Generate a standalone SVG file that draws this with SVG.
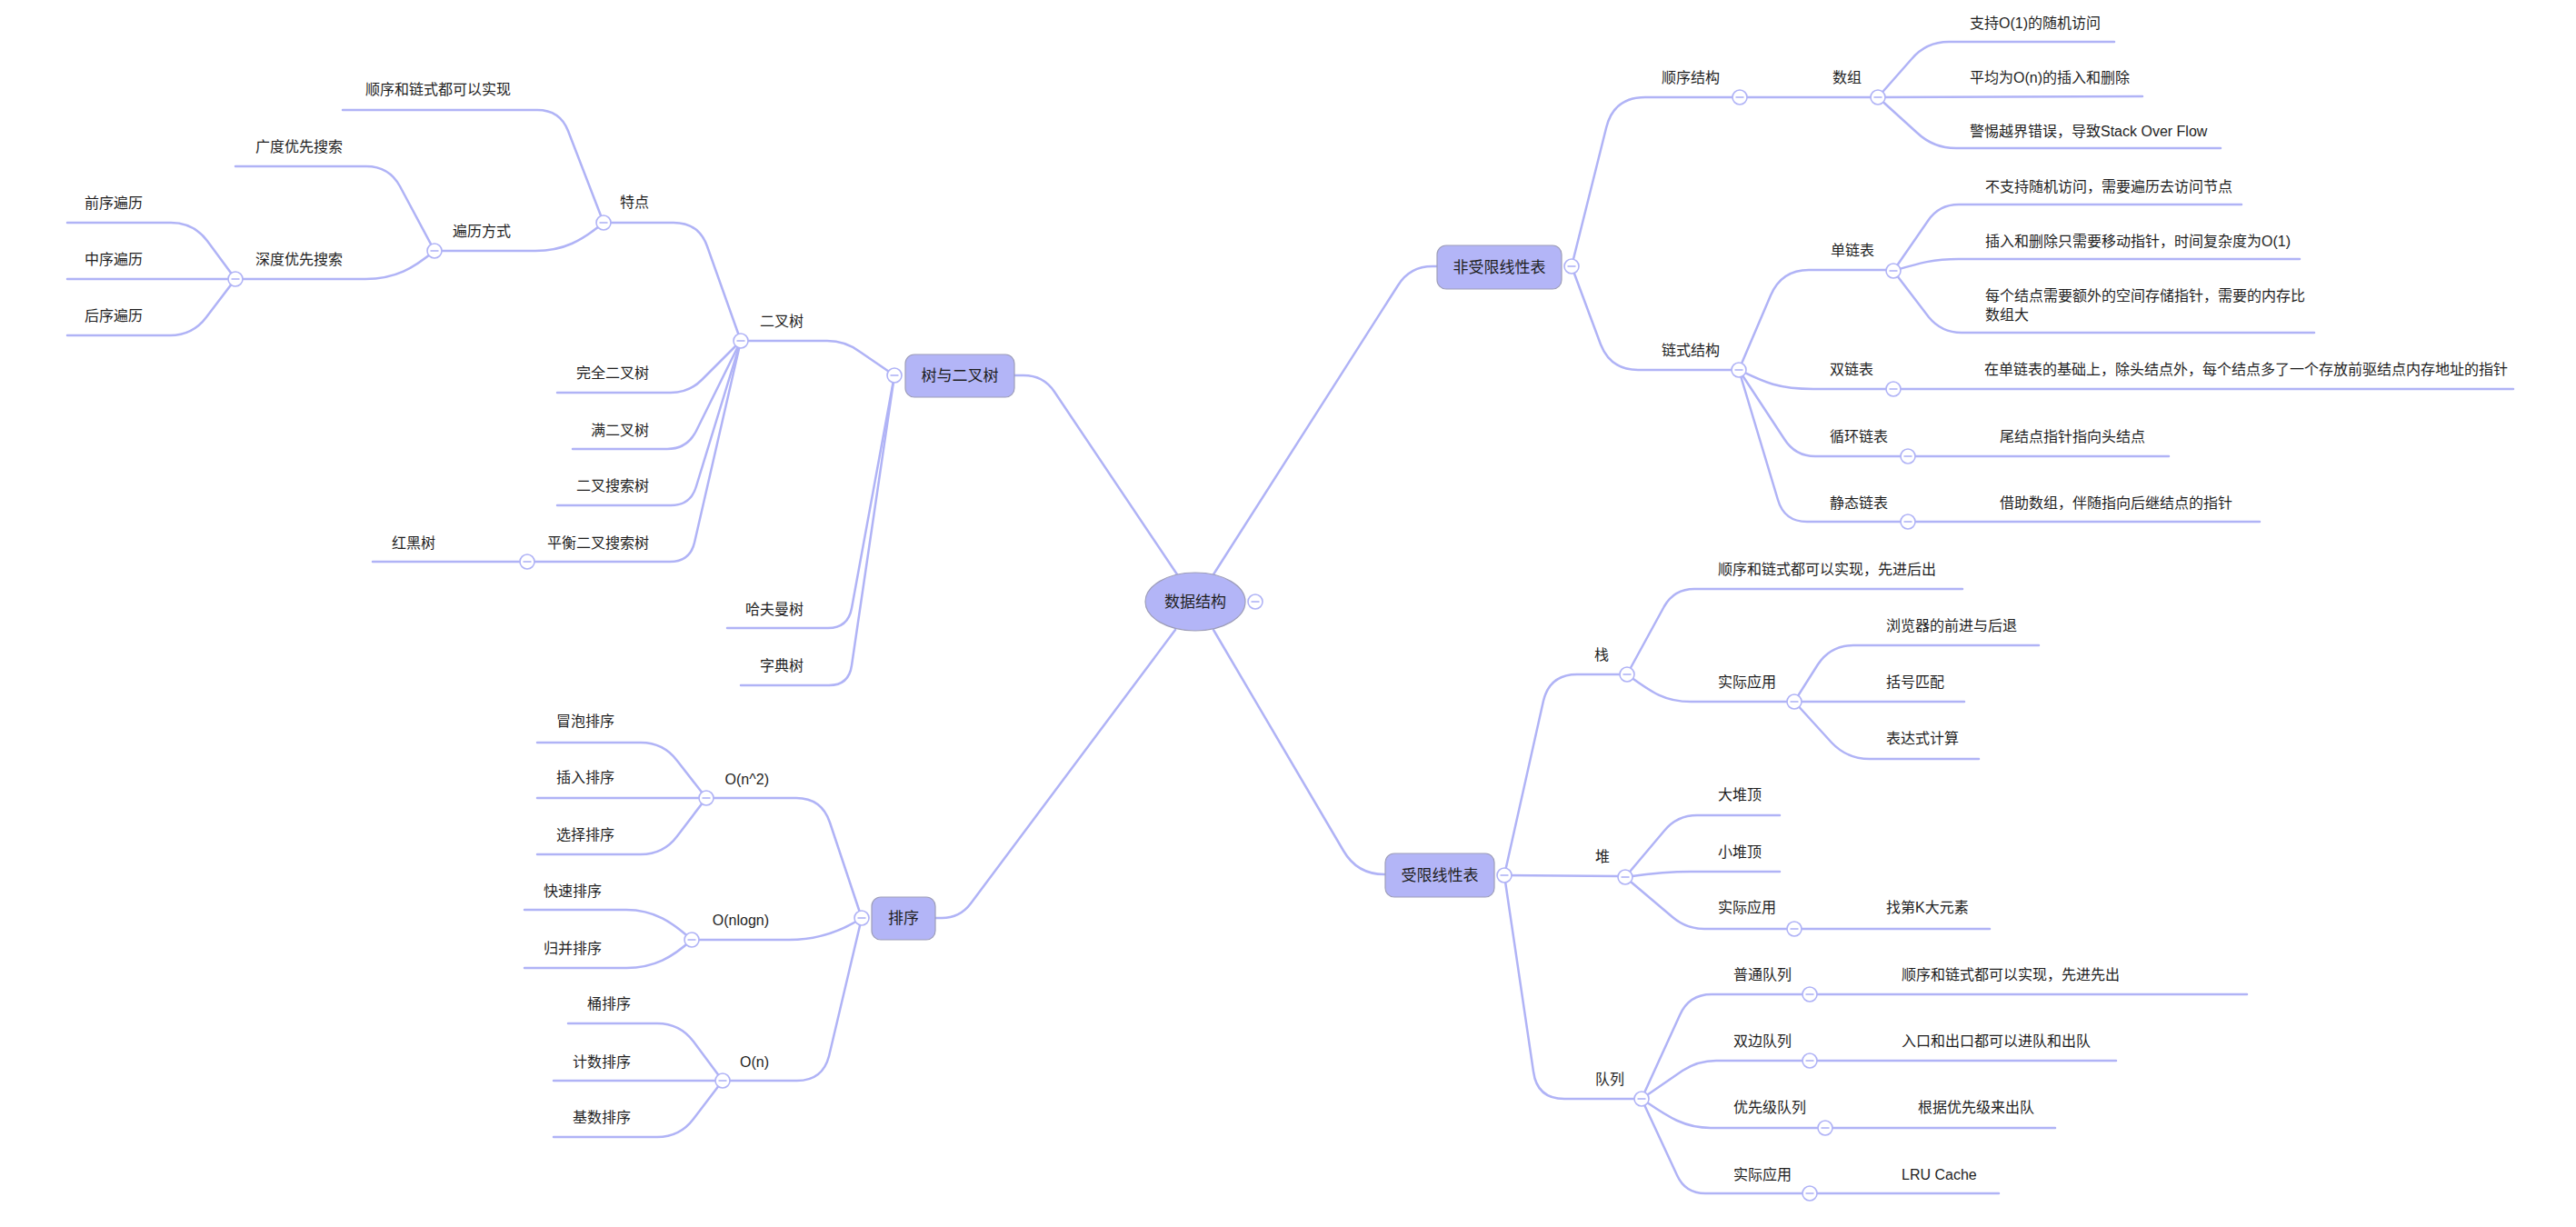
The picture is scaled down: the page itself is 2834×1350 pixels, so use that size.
<svg xmlns="http://www.w3.org/2000/svg" xmlns:xlink="http://www.w3.org/1999/xlink" width="2834" height="1350" viewBox="0 0 2834 1350">
  <style>
    .ln { fill: none; stroke: #b0b3f6; stroke-width: 2.5; stroke-linecap: round; stroke-linejoin: round; }
    text { font-family: "Liberation Sans", "Noto Sans CJK SC", sans-serif; fill: #1e1e1e; }
    .t { font-size: 16px; }
    .te { font-size: 16px; text-anchor: end; }
    .tp { font-size: 17px; text-anchor: middle; }
    .box { fill: #b3b5f7; stroke: #9d9db8; stroke-width: 1.2; }
    .fc { fill: #ffffff; stroke: #b0b3f6; stroke-width: 1.6; }
    .fm { stroke: #b0b3f6; stroke-width: 1.6; }
  </style>
  <defs>
    <g id="fold">
      <circle class="fc" cx="0" cy="0" r="8"/>
      <line class="fm" x1="-4.5" y1="0" x2="4.5" y2="0"/>
    </g>
  </defs>
  <rect width="2834" height="1350" fill="#ffffff"/>

  <!-- branches -->
  <g id="connectors" class="ln">
    <!-- root to main topics -->
    <path d="M1335,632 L1538,314 Q1551,293 1576,293 L1581,293"/>
    <path d="M1335,693 L1478,936 Q1493,962 1523,962 L1524,962"/>
    <path d="M1295,632 L1160,431 Q1148,413 1126,413 L1116,413"/>
    <path d="M1293,693 L1068,994 Q1056,1010 1036,1010 L1029,1010"/>
    <!-- 非受限线性表 -->
    <path d="M1729,293 L1767,141 Q1775,107 1810,107 L1914,107"/>
    <path d="M1729,293 L1761,379 Q1772,407 1802,407 L1913,407"/>
    <path d="M1914,107 L2066,107"/>
    <path d="M2066,107 L2103,65 Q2119,46 2144,46 L2326,46"/>
    <path d="M2066,107 L2357,106"/>
    <path d="M2066,107 L2109,146 Q2127,163 2152,163 L2443,163"/>
    <path d="M1913,407 L1948,325 Q1960,297 1990,297 L2083,297"/>
    <path d="M1913,407 C1940,420 1955,428 1995,428 L2083,428"/>
    <path d="M1913,407 L1963,483 Q1975,502 1997,502 L2099,502"/>
    <path d="M1913,407 L1956,550 Q1963,574 1988,574 L2099,574"/>
    <path d="M2083,298 L2121,243 Q2133,225 2155,225 L2466,225"/>
    <path d="M2083,298 C2110,290 2125,285 2155,285 L2530,285"/>
    <path d="M2083,298 L2122,349 Q2136,366 2158,366 L2546,366"/>
    <path d="M2083,428 L2765,428"/>
    <path d="M2099,502 L2386,502"/>
    <path d="M2099,574 L2486,574"/>
    <!-- 受限线性表 -->
    <path d="M1655,963 L1698,771 Q1705,742 1735,742 L1790,742"/>
    <path d="M1655,963 L1788,964"/>
    <path d="M1655,963 L1687,1179 Q1691,1209 1721,1209 L1806,1209"/>
    <path d="M1790,742 L1831,667 Q1842,648 1864,648 L2159,648"/>
    <path d="M1790,742 C1815,760 1830,772 1860,772 L1974,772"/>
    <path d="M1974,772 L2000,731 Q2014,710 2039,710 L2243,710"/>
    <path d="M1974,772 L2161,772"/>
    <path d="M1974,772 L2015,817 Q2032,835 2057,835 L2177,835"/>
    <path d="M1788,965 L1831,914 Q1845,897 1867,897 L1958,897"/>
    <path d="M1788,965 C1810,962 1830,959 1860,959 L1958,959"/>
    <path d="M1788,965 L1840,1009 Q1855,1022 1875,1022 L1974,1022"/>
    <path d="M1974,1022 L2189,1022"/>
    <path d="M1806,1209 L1848,1117 Q1858,1094 1883,1094 L1991,1094"/>
    <path d="M1806,1209 L1851,1178 Q1868,1167 1888,1167 L1991,1167"/>
    <path d="M1806,1209 C1830,1225 1850,1241 1882,1241 L2008,1241"/>
    <path d="M1806,1209 L1845,1293 Q1854,1313 1876,1313 L1991,1313"/>
    <path d="M1991,1094 L2472,1094"/>
    <path d="M1991,1167 L2328,1167"/>
    <path d="M2008,1241 L2261,1241"/>
    <path d="M1991,1313 L2199,1313"/>
    <!-- 树与二叉树 -->
    <path d="M984,413 L946,387 Q930,375 910,375 L815,375"/>
    <path d="M984,413 L937,669 Q933,691 911,691 L800,691"/>
    <path d="M984,413 L937,732 Q934,754 912,754 L815,754"/>
    <path d="M815,375 L778,271 Q769,245 741,245 L664,245"/>
    <path d="M815,375 L772,418 Q758,432 738,432 L613,432"/>
    <path d="M815,375 L766,474 Q756,494 734,494 L630,494"/>
    <path d="M815,375 L766,535 Q760,556 738,556 L613,556"/>
    <path d="M815,375 L764,597 Q759,618 737,618 L580,618"/>
    <path d="M580,618 L410,618"/>
    <path d="M664,245 L625,144 Q616,121 591,121 L377,121"/>
    <path d="M664,245 C640,265 620,276 589,276 L478,276"/>
    <path d="M478,276 L440,205 Q428,183 403,183 L259,183"/>
    <path d="M478,276 C455,295 435,307 402,307 L259,307"/>
    <path d="M259,307 L228,265 Q213,245 188,245 L74,245"/>
    <path d="M259,307 L74,307"/>
    <path d="M259,307 L227,349 Q212,369 187,369 L74,369"/>
    <!-- 排序 -->
    <path d="M948,1010 L913,905 Q904,878 876,878 L777,878"/>
    <path d="M948,1010 C925,1025 900,1034 868,1034 L761,1034"/>
    <path d="M948,1010 L912,1162 Q905,1189 877,1189 L795,1189"/>
    <path d="M777,878 L745,837 Q730,817 705,817 L591,817"/>
    <path d="M777,878 L591,878"/>
    <path d="M777,878 L745,920 Q730,940 705,940 L591,940"/>
    <path d="M761,1034 C740,1015 720,1001 689,1001 L577,1001"/>
    <path d="M761,1034 C740,1053 720,1065 689,1065 L577,1065"/>
    <path d="M795,1189 L763,1146 Q748,1126 723,1126 L625,1126"/>
    <path d="M795,1189 L609,1189"/>
    <path d="M795,1189 L763,1231 Q748,1251 723,1251 L609,1251"/>
  </g>

  <!-- central topic -->
  <g id="root">
    <ellipse cx="1315" cy="662" rx="55" ry="32" class="box"/>
    <text class="tp" x="1315" y="668">数据结构</text>
    <use xlink:href="#fold" x="1381" y="662"/>
  </g>

  <!-- main topics -->
  <g id="tree">
    <rect x="996" y="390" width="120" height="47" rx="10" class="box"/>
    <text class="tp" x="1056" y="419">树与二叉树</text>
    <use xlink:href="#fold" x="984" y="413"/>
  </g>
  <g id="unrestricted">
    <rect x="1581" y="270" width="137" height="48" rx="10" class="box"/>
    <text class="tp" x="1649.5" y="300">非受限线性表</text>
    <use xlink:href="#fold" x="1729" y="293"/>
  </g>
  <g id="restricted">
    <rect x="1524" y="939" width="120" height="48" rx="10" class="box"/>
    <text class="tp" x="1584" y="969">受限线性表</text>
    <use xlink:href="#fold" x="1655" y="963"/>
  </g>
  <g id="sort">
    <rect x="959" y="987" width="70" height="47" rx="10" class="box"/>
    <text class="tp" x="994" y="1016">排序</text>
    <use xlink:href="#fold" x="948" y="1010"/>
  </g>

  <!-- 非受限线性表 branch -->
  <g id="seq"><text class="t" x="1828" y="91">顺序结构</text><use xlink:href="#fold" x="1914" y="107"/></g>
  <g id="array"><text class="t" x="2016" y="91">数组</text><use xlink:href="#fold" x="2066" y="107"/></g>
  <g id="array-1"><text class="t" x="2167" y="31">支持O(1)的随机访问</text></g>
  <g id="array-2"><text class="t" x="2167" y="91">平均为O(n)的插入和删除</text></g>
  <g id="array-3"><text class="t" x="2167" y="150">警惕越界错误，导致Stack Over Flow</text></g>
  <g id="linked"><text class="t" x="1828" y="391">链式结构</text><use xlink:href="#fold" x="1913" y="407"/></g>
  <g id="single"><text class="t" x="2014" y="281">单链表</text><use xlink:href="#fold" x="2083" y="298"/></g>
  <g id="single-1"><text class="t" x="2184" y="211">不支持随机访问，需要遍历去访问节点</text></g>
  <g id="single-2"><text class="t" x="2184" y="271">插入和删除只需要移动指针，时间复杂度为O(1)</text></g>
  <g id="single-3"><text class="t" x="2184" y="331">每个结点需要额外的空间存储指针，需要的内存比</text><text class="t" x="2184" y="352">数组大</text></g>
  <g id="double"><text class="t" x="2013" y="412">双链表</text><use xlink:href="#fold" x="2083" y="428"/></g>
  <g id="double-1"><text class="t" x="2183" y="412">在单链表的基础上，除头结点外，每个结点多了一个存放前驱结点内存地址的指针</text></g>
  <g id="circular"><text class="t" x="2013" y="486">循环链表</text><use xlink:href="#fold" x="2099" y="502"/></g>
  <g id="circular-1"><text class="t" x="2200" y="486">尾结点指针指向头结点</text></g>
  <g id="static"><text class="t" x="2013" y="559">静态链表</text><use xlink:href="#fold" x="2099" y="574"/></g>
  <g id="static-1"><text class="t" x="2200" y="559">借助数组，伴随指向后继结点的指针</text></g>

  <!-- 受限线性表 branch -->
  <g id="stack"><text class="t" x="1754" y="726">栈</text><use xlink:href="#fold" x="1790" y="742"/></g>
  <g id="stack-1"><text class="t" x="1890" y="632">顺序和链式都可以实现，先进后出</text></g>
  <g id="stack-use"><text class="t" x="1890" y="756">实际应用</text><use xlink:href="#fold" x="1974" y="772"/></g>
  <g id="stack-use-1"><text class="t" x="2075" y="694">浏览器的前进与后退</text></g>
  <g id="stack-use-2"><text class="t" x="2075" y="756">括号匹配</text></g>
  <g id="stack-use-3"><text class="t" x="2075" y="818">表达式计算</text></g>
  <g id="heap"><text class="t" x="1755" y="948">堆</text><use xlink:href="#fold" x="1788" y="965"/></g>
  <g id="heap-1"><text class="t" x="1890" y="880">大堆顶</text></g>
  <g id="heap-2"><text class="t" x="1890" y="943">小堆顶</text></g>
  <g id="heap-use"><text class="t" x="1890" y="1004">实际应用</text><use xlink:href="#fold" x="1974" y="1022"/></g>
  <g id="heap-use-1"><text class="t" x="2075" y="1004">找第K大元素</text></g>
  <g id="queue"><text class="t" x="1755" y="1193">队列</text><use xlink:href="#fold" x="1806" y="1209"/></g>
  <g id="queue-plain"><text class="t" x="1907" y="1078">普通队列</text><use xlink:href="#fold" x="1991" y="1094"/></g>
  <g id="queue-plain-1"><text class="t" x="2092" y="1078">顺序和链式都可以实现，先进先出</text></g>
  <g id="deque"><text class="t" x="1907" y="1151">双边队列</text><use xlink:href="#fold" x="1991" y="1167"/></g>
  <g id="deque-1"><text class="t" x="2092" y="1151">入口和出口都可以进队和出队</text></g>
  <g id="pq"><text class="t" x="1907" y="1224">优先级队列</text><use xlink:href="#fold" x="2008" y="1241"/></g>
  <g id="pq-1"><text class="t" x="2110" y="1224">根据优先级来出队</text></g>
  <g id="queue-use"><text class="t" x="1907" y="1298">实际应用</text><use xlink:href="#fold" x="1991" y="1313"/></g>
  <g id="queue-use-1"><text class="t" x="2092" y="1298">LRU Cache</text></g>

  <!-- 树与二叉树 branch -->
  <g id="bt"><text class="te" x="884" y="359">二叉树</text><use xlink:href="#fold" x="815" y="375"/></g>
  <g id="bt-feat"><text class="te" x="714" y="228">特点</text><use xlink:href="#fold" x="664" y="245"/></g>
  <g id="bt-feat-1"><text class="te" x="562" y="104">顺序和链式都可以实现</text></g>
  <g id="traverse"><text class="te" x="562" y="260">遍历方式</text><use xlink:href="#fold" x="478" y="276"/></g>
  <g id="bfs"><text class="te" x="377" y="167">广度优先搜索</text></g>
  <g id="dfs"><text class="te" x="377" y="291">深度优先搜索</text><use xlink:href="#fold" x="259" y="307"/></g>
  <g id="pre"><text class="te" x="157" y="229">前序遍历</text></g>
  <g id="in"><text class="te" x="157" y="291">中序遍历</text></g>
  <g id="post"><text class="te" x="157" y="353">后序遍历</text></g>
  <g id="complete"><text class="te" x="714" y="416">完全二叉树</text></g>
  <g id="full"><text class="te" x="714" y="479">满二叉树</text></g>
  <g id="bst"><text class="te" x="714" y="540">二叉搜索树</text></g>
  <g id="avl"><text class="te" x="714" y="603">平衡二叉搜索树</text><use xlink:href="#fold" x="580" y="618"/></g>
  <g id="rbt"><text class="te" x="479" y="603">红黑树</text></g>
  <g id="huffman"><text class="te" x="884" y="676">哈夫曼树</text></g>
  <g id="trie"><text class="te" x="884" y="738">字典树</text></g>

  <!-- 排序 branch -->
  <g id="n2"><text class="te" x="846" y="863">O(n^2)</text><use xlink:href="#fold" x="777" y="878"/></g>
  <g id="bubble"><text class="te" x="676" y="799">冒泡排序</text></g>
  <g id="insertion"><text class="te" x="676" y="861">插入排序</text></g>
  <g id="selection"><text class="te" x="676" y="924">选择排序</text></g>
  <g id="nlogn"><text class="te" x="846" y="1018">O(nlogn)</text><use xlink:href="#fold" x="761" y="1034"/></g>
  <g id="quick"><text class="te" x="662" y="986">快速排序</text></g>
  <g id="merge"><text class="te" x="662" y="1049">归并排序</text></g>
  <g id="n"><text class="te" x="846" y="1174">O(n)</text><use xlink:href="#fold" x="795" y="1189"/></g>
  <g id="bucket"><text class="te" x="694" y="1110">桶排序</text></g>
  <g id="counting"><text class="te" x="694" y="1174">计数排序</text></g>
  <g id="radix"><text class="te" x="694" y="1235">基数排序</text></g>
</svg>
